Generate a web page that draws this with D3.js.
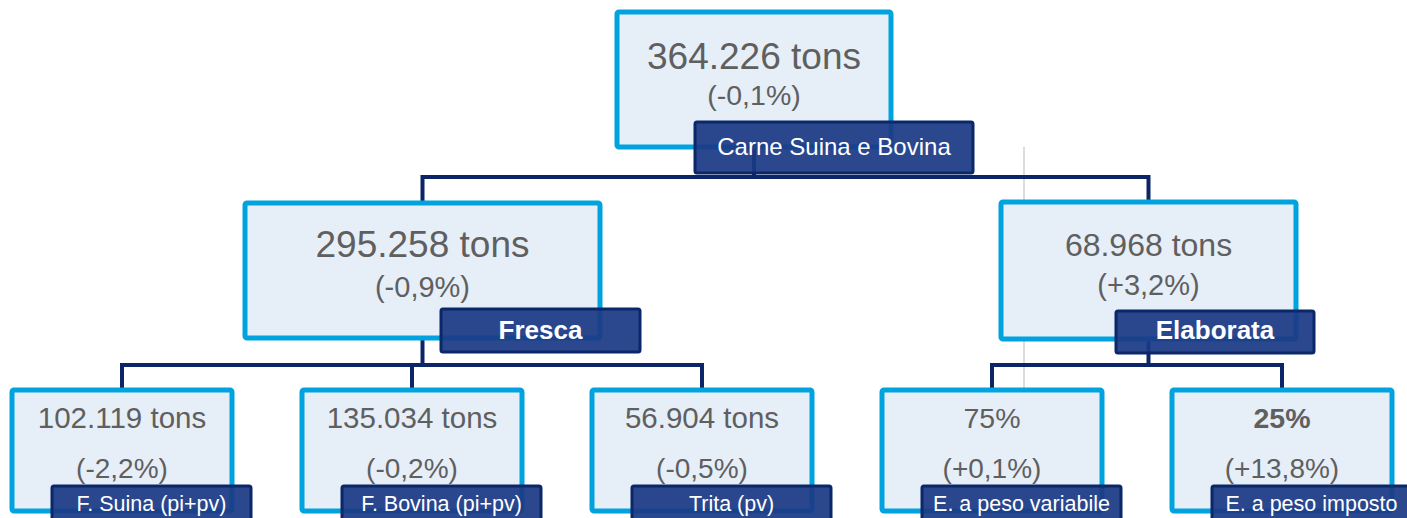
<!DOCTYPE html>
<html>
<head>
<meta charset="utf-8">
<script src="https://cdn.jsdelivr.net/npm/d3@7"></script>
<style>
  html, body { margin: 0; padding: 0; background: #ffffff; }
  svg { display: block; }
  text { font-family: "Liberation Sans", Arial, Helvetica, sans-serif; }
</style>
</head>
<body>
<svg id="chart" width="1407" height="518"></svg>
<script>
// ---- data ----
const nodeNames = ["Carne Suina e Bovina", "Fresca", "Elaborata",
  "F. Suina (pi+pv)", "F. Bovina (pi+pv)", "Trita (pv)",
  "E. a peso variabile", "E. a peso imposto"];
const parentNames = [null, "Carne Suina e Bovina", "Carne Suina e Bovina",
  "Fresca", "Fresca", "Fresca", "Elaborata", "Elaborata"];
const mainValues = ["364.226 tons", "295.258 tons", "68.968 tons",
  "102.119 tons", "135.034 tons", "56.904 tons", "75%", "25%"];
const changeValues = ["(-0,1%)", "(-0,9%)", "(+3,2%)",
  "(-2,2%)", "(-0,2%)", "(-0,5%)", "(+0,1%)", "(+13,8%)"];
const boldLabels = ["Fresca", "Elaborata"];
const boldValues = ["25%"];

// ---- layout / style ----
const W = 1407, H = 518;
const C = {
  boxStroke: "#00a3de", boxFill: "#e6eef8", text: "#5f5f5f",
  labelFill: "#1b3a85", labelStroke: "#0a2769", line: "#0b2566"
};
// upper-level box geometry
const upper = {
  "Carne Suina e Bovina": {x: 617, y: 12, w: 274, h: 135, lx: 695, ly: 122, lw: 278, lh: 51,
    f1: 37, f2: 28.5, b1: 57, b2: 93, lf: 24, lb: 33, bus: 177},
  "Fresca": {x: 245, y: 203, w: 355, h: 135, lx: 441, ly: 309, lw: 199, lh: 43,
    f1: 37, f2: 29, b1: 54, b2: 94, lf: 26, lb: 30, bus: 365},
  "Elaborata": {x: 1001, y: 202, w: 295, h: 137, lx: 1116, ly: 311, lw: 198, lh: 42,
    f1: 32, f2: 29, b1: 54, b2: 93, lf: 26, lb: 28, bus: 365}
};

const table = nodeNames.map((n, i) => ({name: n, parent: parentNames[i], v: mainValues[i], c: changeValues[i]}));
const root = d3.stratify().id(d => d.name).parentId(d => d.parent)(table);
const leaves = root.leaves();

const leafX = d3.scalePoint().domain(leaves.map(d => d.id)).range([12, 1172]);
const leafW = 220, leafY = 390, leafH = 121;

root.each(d => {
  if (upper[d.id]) {
    Object.assign(d, upper[d.id]);
  } else {
    Object.assign(d, {x: leafX(d.id), y: leafY, w: leafW, h: leafH,
      lx: leafX(d.id) + 40, ly: 486, lw: 199, lh: 44,
      f1: d.data.v.includes("tons") ? 29.5 : 28.5, f2: 28, b1: 38, b2: 88, lf: 21.5, lb: 25});
  }
  d.cx = d.x + d.w / 2;
});

const svg = d3.select("#chart");

// faint background guide line
svg.append("line").attr("x1", 1024).attr("x2", 1024).attr("y1", 147).attr("y2", 392)
  .attr("stroke", "#dcdcdc").attr("stroke-width", 2);

// connectors
const parentsList = root.descendants().filter(d => d.children);
const lines = svg.append("g").attr("fill", "none").attr("stroke", C.line)
  .attr("stroke-width", 4).attr("stroke-linejoin", "miter").attr("stroke-linecap", "square");
parentsList.forEach(p => {
  const xs = p.children.map(c => c.cx);
  const path = d3.path();
  path.moveTo(p.cx, p.y + p.h);
  path.lineTo(p.cx, p.bus);
  lines.append("path").attr("d", path.toString());
  const h = d3.path();
  p.children.forEach(c => {
    h.moveTo(c.cx, c.y);
    h.lineTo(c.cx, p.bus);
  });
  h.moveTo(d3.min(xs), p.bus);
  h.lineTo(d3.max(xs), p.bus);
  lines.append("path").attr("d", h.toString());
});

const nodes = svg.selectAll("g.node").data(root.descendants()).join("g").attr("class", "node");

nodes.append("rect")
  .attr("x", d => d.x).attr("y", d => d.y).attr("width", d => d.w).attr("height", d => d.h)
  .attr("rx", 2).attr("fill", C.boxFill).attr("stroke", C.boxStroke).attr("stroke-width", 5);

nodes.append("text")
  .attr("x", d => d.cx).attr("y", d => d.y + d.b1)
  .attr("text-anchor", "middle").attr("fill", C.text)
  .attr("font-size", d => d.f1)
  .attr("font-weight", d => boldValues.includes(d.data.v) ? "bold" : "normal")
  .text(d => d.data.v);

nodes.append("text")
  .attr("x", d => d.cx).attr("y", d => d.y + d.b2)
  .attr("text-anchor", "middle").attr("fill", C.text)
  .attr("font-size", d => d.f2)
  .text(d => d.data.c);

nodes.append("rect")
  .attr("x", d => d.lx).attr("y", d => d.ly).attr("width", d => d.lw).attr("height", d => d.lh)
  .attr("rx", 2).attr("fill", C.labelFill).attr("fill-opacity", 0.93)
  .attr("stroke", C.labelStroke).attr("stroke-width", 3);

nodes.append("text")
  .attr("x", d => d.lx + d.lw / 2).attr("y", d => d.ly + d.lb)
  .attr("text-anchor", "middle").attr("fill", "#ffffff")
  .attr("font-size", d => d.lf)
  .attr("font-weight", d => boldLabels.includes(d.id) ? "bold" : "normal")
  .text(d => d.id);
</script>
</body>
</html>
